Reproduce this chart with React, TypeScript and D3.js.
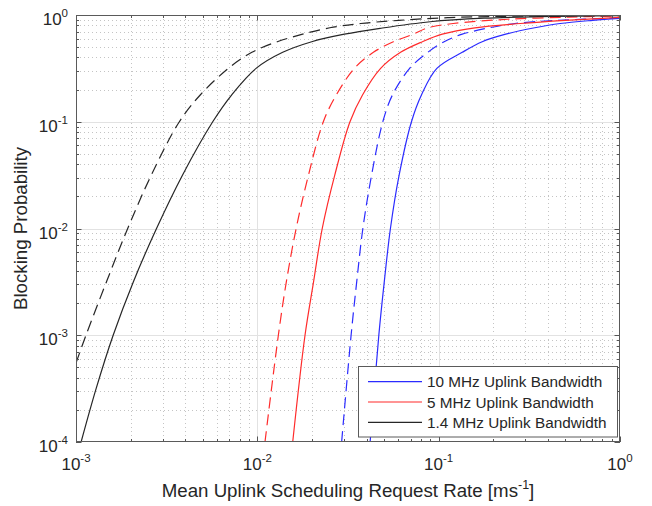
import React from 'react';
import * as d3 from 'd3';

const W = 652;
const H = 506;
const PL = 76, PR = 620, PT = 15, PB = 442;

// Axis ticks
const xTickValues = [1e-3, 1e-2, 1e-1, 1];
const xTickExponents = ['-3', '-2', '-1', '0'];
const yTickValues = [1e-4, 1e-3, 1e-2, 1e-1, 1];
const yTickExponents = ['-4', '-3', '-2', '-1', '0'];

const legendLabels = ['10 MHz Uplink Bandwidth', '5 MHz Uplink Bandwidth', '1.4 MHz Uplink Bandwidth'];

// 10 MHz, solid
const rate10Solid = [0.04188, 0.04677, 0.05012, 0.0542, 0.06053, 0.07079, 0.08035, 0.09772, 0.1349, 0.1738, 0.2344, 0.3388, 0.4677, 0.7079, 1];
const prob10Solid = [1e-4, 1e-3, 3.16e-3, 0.01, 0.0316, 0.1, 0.178, 0.316, 0.447, 0.562, 0.661, 0.759, 0.832, 0.891, 0.931];
// 10 MHz, dashed
const rate10Dashed = [0.02917, 0.03289, 0.03532, 0.03819, 0.04266, 0.0492, 0.05559, 0.06918, 0.0871, 0.1072, 0.1349, 0.1905, 0.263, 0.4467, 1];
const prob10Dashed = [1e-4, 1e-3, 3.16e-3, 0.01, 0.0316, 0.1, 0.178, 0.316, 0.447, 0.562, 0.661, 0.759, 0.832, 0.891, 0.938];
// 5 MHz, solid
const rate5Solid = [0.01567, 0.01832, 0.02042, 0.0228, 0.02673, 0.03243, 0.03802, 0.04786, 0.06166, 0.08128, 0.1047, 0.1585, 0.2818, 0.5012, 1];
const prob5Solid = [1e-4, 1e-3, 3.16e-3, 0.01, 0.0316, 0.1, 0.178, 0.316, 0.447, 0.562, 0.661, 0.759, 0.832, 0.891, 0.951];
// 5 MHz, dashed
const rate5Dashed = [0.01102, 0.01306, 0.01445, 0.01637, 0.01914, 0.02312, 0.02723, 0.03428, 0.04365, 0.05623, 0.07244, 0.0871, 0.1202, 0.2399, 0.5248, 1];
const prob5Dashed = [1e-4, 1e-3, 3.16e-3, 0.01, 0.0316, 0.1, 0.178, 0.316, 0.447, 0.562, 0.661, 0.759, 0.832, 0.912, 0.955, 0.982];
// 1.4 MHz, solid
const rate14Solid = [0.001067, 0.001291, 0.001603, 0.00207, 0.00278, 0.003864, 0.005675, 0.00721, 0.00984, 0.0138, 0.01995, 0.0302, 0.04753, 0.08974, 0.1778, 0.3548, 1];
const prob14Solid = [1e-4, 3.16e-4, 1e-3, 3.16e-3, 0.01, 0.0316, 0.1, 0.178, 0.316, 0.447, 0.562, 0.661, 0.75, 0.865, 0.933, 0.964, 0.986];
// 1.4 MHz, dashed
const rate14Dashed = [0.001, 0.001135, 0.001472, 0.001928, 0.0026, 0.003715, 0.004842, 0.006918, 0.009333, 0.01288, 0.01778, 0.02512, 0.03715, 0.06026, 0.1122, 0.2512, 1];
const prob14Dashed = [5.5e-4, 1e-3, 3.16e-3, 0.01, 0.0316, 0.1, 0.178, 0.316, 0.447, 0.562, 0.661, 0.759, 0.832, 0.891, 0.944, 0.973, 0.993];

const BLUE = '#2b2bff';
const RED = '#ff2b2b';
const BLACK = '#262626';

const series = [
  { rates: rate10Solid, probs: prob10Solid, color: BLUE, dashed: false },
  { rates: rate10Dashed, probs: prob10Dashed, color: BLUE, dashed: true },
  { rates: rate5Solid, probs: prob5Solid, color: RED, dashed: false },
  { rates: rate5Dashed, probs: prob5Dashed, color: RED, dashed: true },
  { rates: rate14Solid, probs: prob14Solid, color: BLACK, dashed: false },
  { rates: rate14Dashed, probs: prob14Dashed, color: BLACK, dashed: true },
];
const legendColors = [BLUE, RED, BLACK];

const FONT = '"Liberation Sans", Arial, Helvetica, sans-serif';

export default function App() {
  const x = d3.scaleLog().domain([1e-3, 1]).range([PL, PR]);
  const y = d3.scaleLog().domain([1e-4, 1]).range([PB, PT]);

  const xMinor: number[] = [];
  for (let d = -3; d < 0; d++) for (let k = 2; k <= 9; k++) xMinor.push(k * Math.pow(10, d));
  const yMinor: number[] = [];
  for (let d = -4; d < 0; d++) for (let k = 2; k <= 9; k++) yMinor.push(k * Math.pow(10, d));

  const line = d3
    .line<[number, number]>()
    .x((d) => x(d[0]))
    .y((d) => y(d[1]))
    .curve(d3.curveCatmullRom.alpha(0.5));

  const snap = (v: number) => Math.round(v) + 0.5;

  const majorTick = 5.5;
  const minorTick = 3;

  return (
    <svg width={W} height={H} style={{ position: 'absolute', left: 0, top: 0, background: '#fff' }} fontFamily={FONT}>
      <defs>
        <clipPath id="plotClip">
          <rect x={PL} y={PT} width={PR - PL} height={PB - PT} />
        </clipPath>
      </defs>
      <rect x={0} y={0} width={W} height={H} fill="#fff" />
      {/* minor grid */}
      <g stroke="#c4c4c4" strokeWidth={1} strokeDasharray="1,3">
        {xMinor.map((v, i) => (
          <line key={'xm' + i} x1={snap(x(v))} x2={snap(x(v))} y1={PT} y2={PB} />
        ))}
        {yMinor.map((v, i) => (
          <line key={'ym' + i} x1={PL} x2={PR} y1={snap(y(v))} y2={snap(y(v))} />
        ))}
      </g>
      {/* major grid */}
      <g stroke="#e2e2e2" strokeWidth={1}>
        {xTickValues.slice(1, -1).map((v, i) => (
          <line key={'xg' + i} x1={snap(x(v))} x2={snap(x(v))} y1={PT} y2={PB} />
        ))}
        {yTickValues.slice(1, -1).map((v, i) => (
          <line key={'yg' + i} x1={PL} x2={PR} y1={snap(y(v))} y2={snap(y(v))} />
        ))}
      </g>
      {/* curves */}
      <g clipPath="url(#plotClip)" fill="none">
        {series.map((s, i) => (
          <path
            key={'s' + i}
            d={line(s.rates.map((r, j) => [r, s.probs[j]] as [number, number])) || ''}
            stroke={s.color}
            strokeWidth={1.2}
            strokeDasharray={s.dashed ? '11,6' : undefined}
          />
        ))}
      </g>
      {/* ticks */}
      <g stroke="#555" strokeWidth={1}>
        {xTickValues.map((v, i) => (
          <g key={'xt' + i}>
            <line x1={snap(x(v))} x2={snap(x(v))} y1={PB} y2={PB - majorTick} />
            <line x1={snap(x(v))} x2={snap(x(v))} y1={PT} y2={PT + majorTick} />
          </g>
        ))}
        {xMinor.map((v, i) => (
          <g key={'xmt' + i}>
            <line x1={snap(x(v))} x2={snap(x(v))} y1={PB} y2={PB - minorTick} />
            <line x1={snap(x(v))} x2={snap(x(v))} y1={PT} y2={PT + minorTick} />
          </g>
        ))}
        {yTickValues.map((v, i) => (
          <g key={'yt' + i}>
            <line x1={PL} x2={PL + majorTick} y1={snap(y(v))} y2={snap(y(v))} />
            <line x1={PR} x2={PR - majorTick} y1={snap(y(v))} y2={snap(y(v))} />
          </g>
        ))}
        {yMinor.map((v, i) => (
          <g key={'ymt' + i}>
            <line x1={PL} x2={PL + minorTick} y1={snap(y(v))} y2={snap(y(v))} />
            <line x1={PR} x2={PR - minorTick} y1={snap(y(v))} y2={snap(y(v))} />
          </g>
        ))}
      </g>
      {/* box */}
      <rect x={PL + 0.5} y={PT + 0.5} width={PR - PL - 1} height={PB - PT - 1} fill="none" stroke="#5a5a5a" strokeWidth={1} />
      {/* tick labels */}
      <g fill="#262626" fontSize={17}>
        {xTickValues.map((v, i) => (
          <text key={'xl' + i} x={x(v)} y={PB + 28} textAnchor="middle">
            10
            <tspan fontSize={11.5} dy={-8}>
              {xTickExponents[i]}
            </tspan>
          </text>
        ))}
        {yTickValues.map((v, i) => (
          <text key={'yl' + i} x={68} y={y(v) + 10} textAnchor="end">
            10
            <tspan fontSize={11.5} dy={-8}>
              {yTickExponents[i]}
            </tspan>
          </text>
        ))}
      </g>
      {/* axis labels */}
      <text x={(PL + PR) / 2} y={497} textAnchor="middle" fontSize={18.7} fill="#262626">
        Mean Uplink Scheduling Request Rate [ms
        <tspan fontSize={12.5} dy={-8}>-1</tspan>
        <tspan dy={8}>]</tspan>
      </text>
      <text
        transform={`translate(27, ${(PT + PB) / 2}) rotate(-90)`}
        textAnchor="middle"
        fontSize={18.7}
        fill="#262626"
      >
        Blocking Probability
      </text>
      {/* legend */}
      <g>
        <rect x={358.5} y={366.5} width={259} height={70.5} fill="#fff" stroke="#5a5a5a" strokeWidth={1} />
        {legendLabels.map((lab, i) => {
          const cy = 381.7 + i * 20.3;
          return (
            <g key={'lg' + i}>
              <line x1={368} x2={422} y1={cy} y2={cy} stroke={legendColors[i]} strokeWidth={1.2} />
              <text x={427} y={cy + 5.5} fontSize={15.3} fill="#262626">
                {lab}
              </text>
            </g>
          );
        })}
      </g>
    </svg>
  );
}
